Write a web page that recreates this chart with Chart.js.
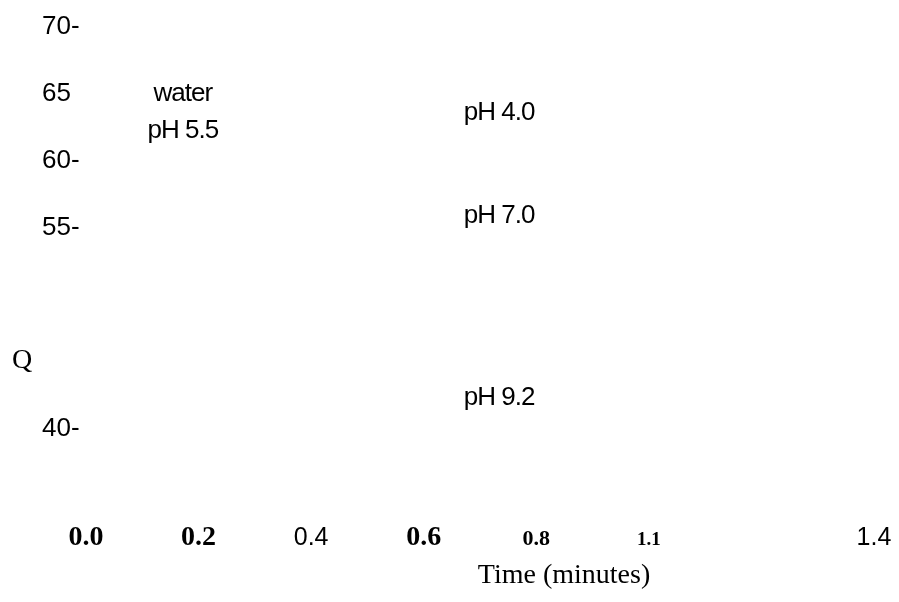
<!DOCTYPE html>
<html>
<head>
<meta charset="utf-8">
<script src="https://cdn.jsdelivr.net/npm/chart.js@4.4.1/dist/chart.umd.min.js"></script>
<style>
  html, body { margin: 0; padding: 0; background: #fff; }
  #wrap { width: 899px; height: 602px; position: relative; }
</style>
</head>
<body>
<div id="wrap"><canvas id="c"></canvas></div>
<script>
// Axis ticks: positions on the scale and the text printed at each one
const xTickValues = [0.0, 0.2, 0.4, 0.6, 0.8, 1.0, 1.2, 1.4];
const xTickLabels = ['0.0', '0.2', '0.4', '0.6', '0.8', '1.1', '', '1.4'];
const yTickValues = [70, 65, 60, 55, 40];
const yTickLabels = ['70-', '65', '60-', '55-', '40-'];

// Curve names and where each one sits (time, Q)
const curveLabels = [['water', 'pH 5.5'], ['pH 4.0'], ['pH 7.0'], ['pH 9.2']];
const curveLabelTime = [0.172, 0.734, 0.734, 0.734];
const curveLabelQ = [61.7, 63.1, 55.4, 41.8];

const xTitle = 'Time (minutes)';
const yTitle = 'Q';

const SERIF = "'Liberation Serif', 'Times New Roman', serif";
const SANS = "'Liberation Sans', Arial, sans-serif";
// line heights chosen so that mixed-size tick labels share one baseline
const serifBold = { family: SERIF, weight: 'bold', size: 28, lineHeight: 1.2 };
const sansTick = { family: SANS, weight: 'normal', size: 25, lineHeight: 1.36 };
const xTickFonts = [
  serifBold, serifBold, sansTick, serifBold,
  { family: SERIF, weight: 'bold', size: 22, lineHeight: 1.62 },
  { family: SERIF, weight: 'bold', size: 19, lineHeight: 1.98 },
  sansTick, sansTick
];

// Draws the curve names at their anchor points plus both axis titles
const textPlugin = {
  id: 'curveText',
  afterDatasetsDraw(chart) {
    const ctx = chart.ctx;
    const meta = chart.getDatasetMeta(0);
    ctx.save();
    ctx.fillStyle = '#000';
    ctx.textAlign = 'center';
    ctx.textBaseline = 'alphabetic';
    ctx.font = "26px " + SANS;
    if ('letterSpacing' in ctx) ctx.letterSpacing = '-1px';
    meta.data.forEach((pt, i) => {
      const lines = curveLabels[i];
      const lh = 37;
      lines.forEach((line, j) => {
        ctx.fillText(line, pt.x, pt.y - (lines.length - 1 - j) * lh);
      });
    });
    if ('letterSpacing' in ctx) ctx.letterSpacing = '0px';
    ctx.font = "28px " + SERIF;
    ctx.textAlign = 'left';
    ctx.fillText(yTitle, 12, chart.scales.y.getPixelForValue(45.3) + 10);
    ctx.textAlign = 'center';
    ctx.fillText(xTitle, 564, 583);
    ctx.restore();
  }
};

new Chart(document.getElementById('c'), {
  type: 'scatter',
  data: {
    datasets: [{
      label: 'curves',
      data: curveLabelTime.map((t, i) => ({ x: t, y: curveLabelQ[i] })),
      pointRadius: 0,
      showLine: false
    }]
  },
  options: {
    responsive: true,
    maintainAspectRatio: false,
    animation: false,
    events: [],
    layout: { padding: { left: 42, right: 25, top: 27, bottom: 26 } },
    plugins: { legend: { display: false }, tooltip: { enabled: false } },
    scales: {
      x: {
        type: 'linear',
        min: 0,
        max: 1.4,
        grid: { display: false },
        border: { display: false },
        afterBuildTicks: (scale) => { scale.ticks = xTickValues.map(v => ({ value: v })); },
        afterFit: (scale) => { scale.paddingRight = 0; },
        ticks: {
          autoSkip: false,
          maxRotation: 0,
          padding: 17,
          color: '#000',
          font: (c) => xTickFonts[c.index] || sansTick,
          callback: (v, i) => xTickLabels[i]
        }
      },
      y: {
        type: 'linear',
        min: 35,
        max: 70,
        grid: { display: false },
        border: { display: false },
        afterBuildTicks: (scale) => { scale.ticks = yTickValues.map(v => ({ value: v })); },
        afterFit: (scale) => { scale.width = 44; },
        ticks: {
          autoSkip: false,
          crossAlign: 'far',
          padding: 6,
          color: '#000',
          font: { family: SANS, size: 26 },
          callback: (v, i) => yTickLabels[i]
        }
      }
    }
  },
  plugins: [textPlugin]
});
</script>
</body>
</html>
